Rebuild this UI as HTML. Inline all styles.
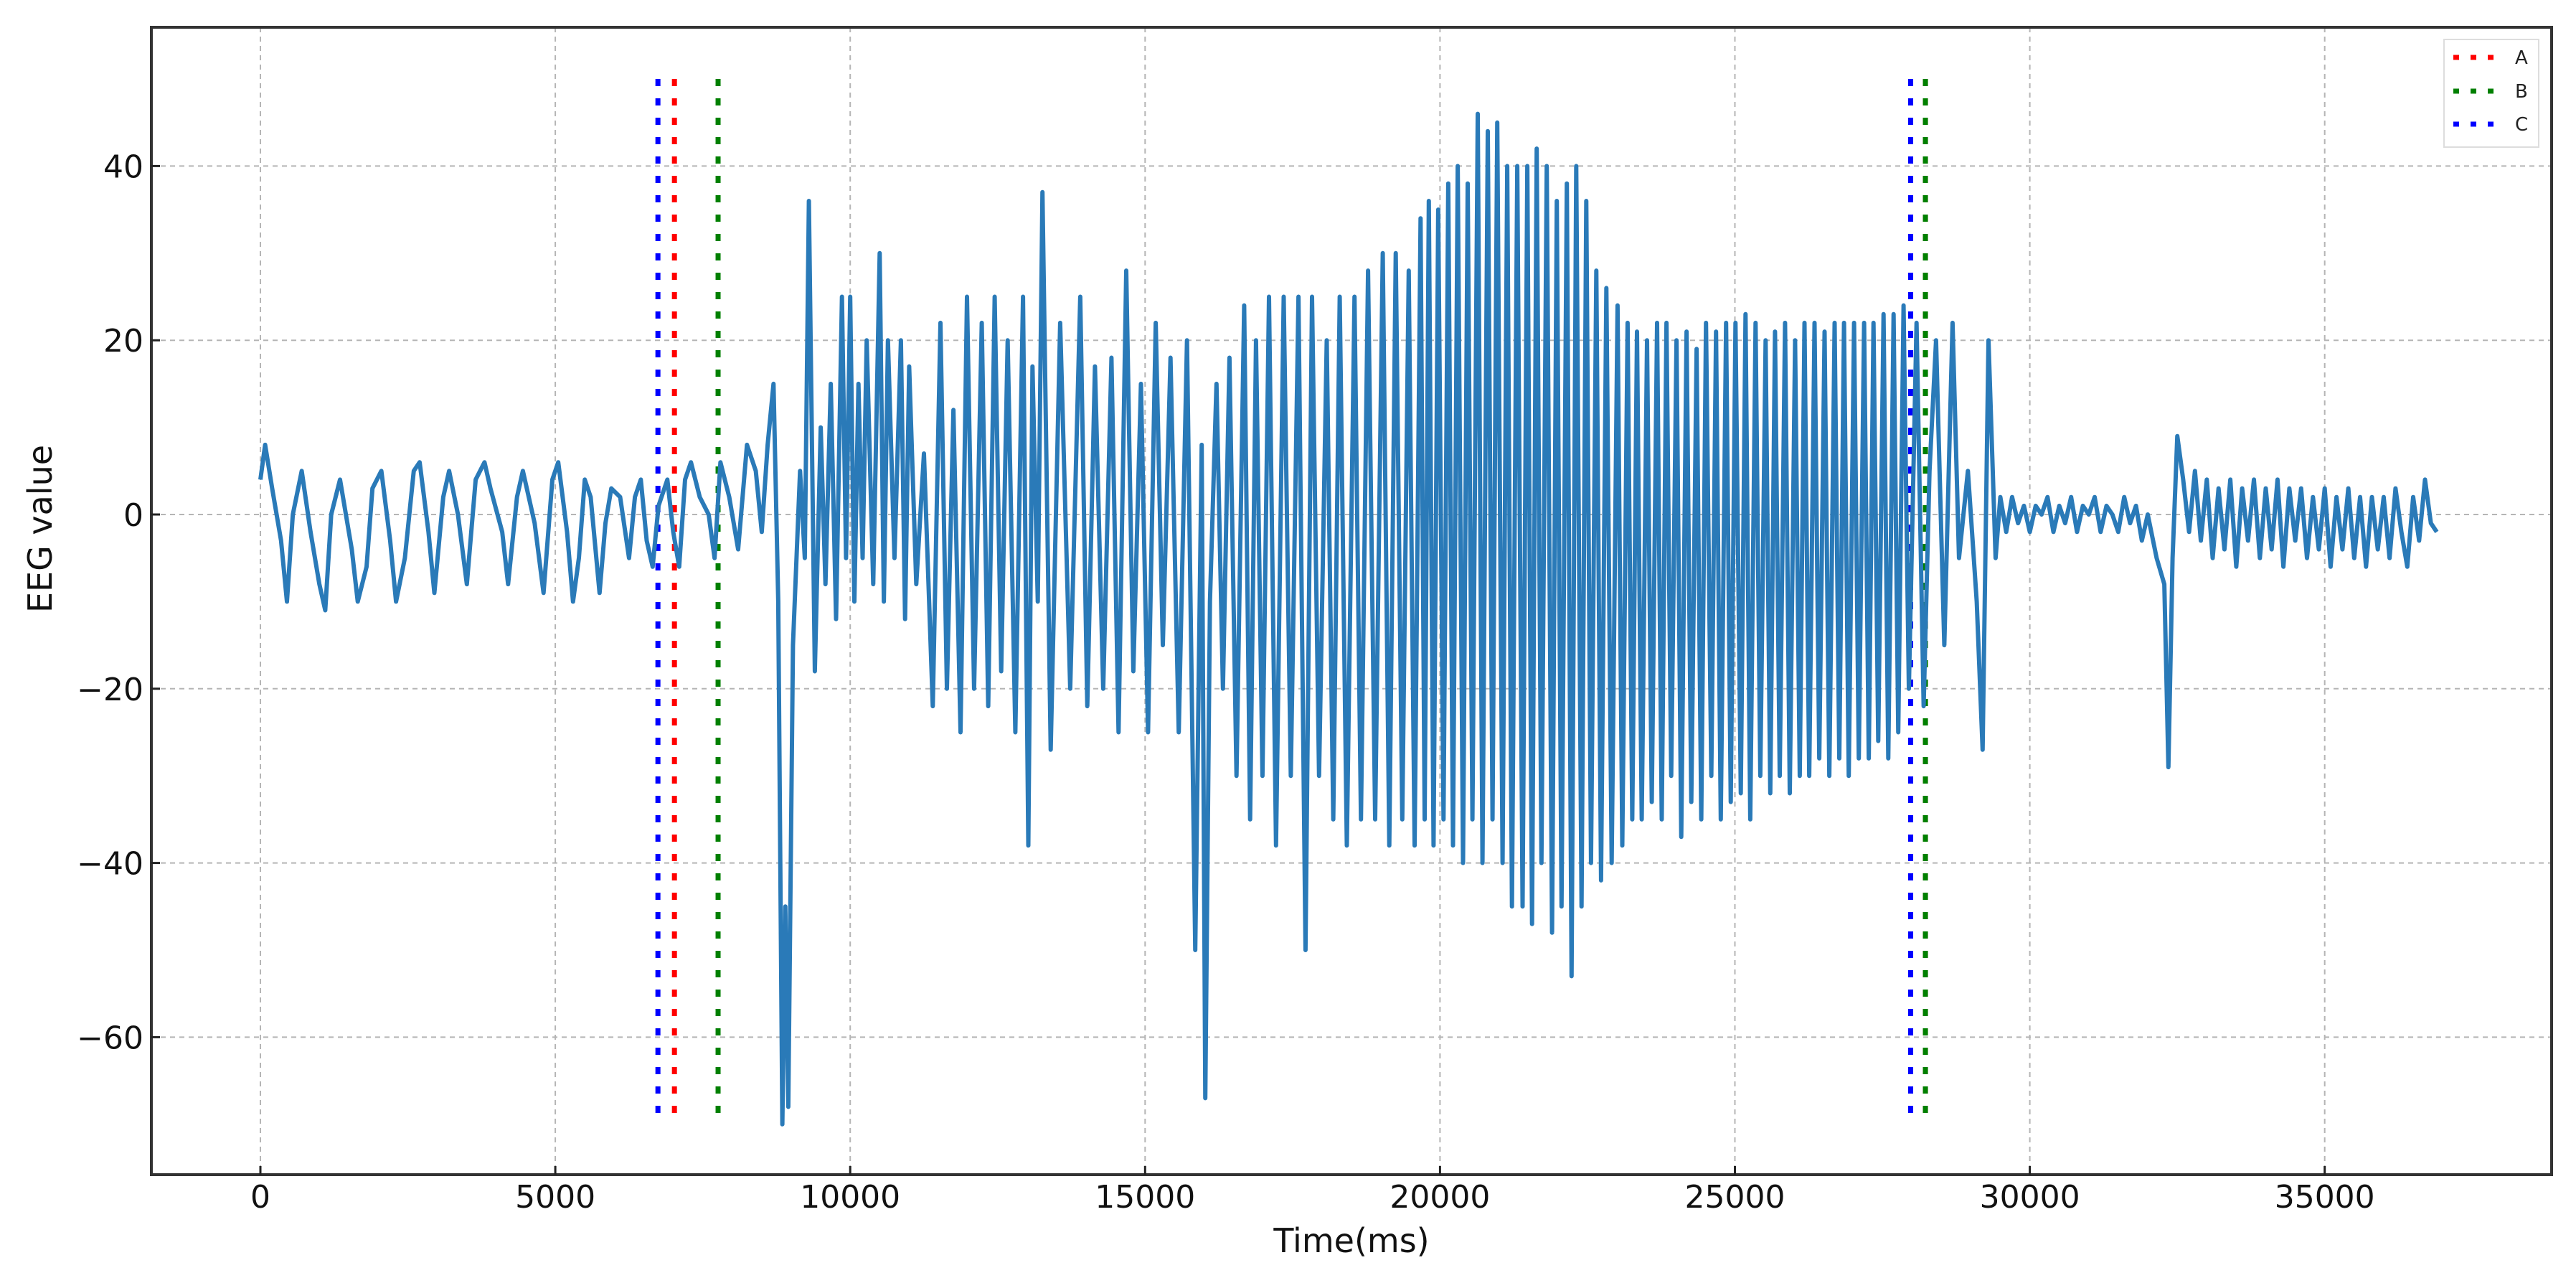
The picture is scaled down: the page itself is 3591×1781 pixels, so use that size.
<!DOCTYPE html>
<html><head><meta charset="utf-8"><style>
html,body{margin:0;padding:0;background:#fff;}
svg{display:block;font-family:"DejaVu Sans","Liberation Sans",sans-serif;}
</style></head><body>
<svg id="chart" width="3591" height="1781" viewBox="0 0 3591 1781" xmlns="http://www.w3.org/2000/svg">
<rect x="0" y="0" width="3591" height="1781" fill="#fff"/>
<g id="grid"></g>
<g id="markers"></g>
<g id="series"></g>
<rect x="211" y="38" width="3346" height="1599" fill="none" stroke="#333" stroke-width="4"/>
<g id="xticks"></g>
<g id="yticks"></g>
<text x="1884" y="1745" font-size="46" text-anchor="middle" fill="#111">Time(ms)</text>
<text transform="translate(72,737) rotate(-90)" font-size="46" text-anchor="middle" fill="#111">EEG value</text>
<g>
<rect x="3407" y="55" width="132" height="150" fill="#fff" stroke="#ddd" stroke-width="2"/>
<line x1="3420" y1="80" x2="3484" y2="80" stroke="#ff0000" stroke-width="7" stroke-dasharray="8 16"/>
<text x="3506" y="89" font-size="26" fill="#222">A</text>
<line x1="3420" y1="127" x2="3484" y2="127" stroke="#008000" stroke-width="7" stroke-dasharray="8 16"/>
<text x="3506" y="136" font-size="26" fill="#222">B</text>
<line x1="3420" y1="173" x2="3484" y2="173" stroke="#0000ff" stroke-width="7" stroke-dasharray="8 16"/>
<text x="3506" y="182" font-size="26" fill="#222">C</text>
</g>
</svg>
<script>
const xTicks = [0,5000,10000,15000,20000,25000,30000,35000];
const yTicks = [40,20,0,-20,-40,-60];
const markerNames = ["C","A","B","C","A","B"];
const markerTimes = [6740,7020,7760,27980,28230,28230];
const markerColors = ["#0000ff","#ff0000","#008000","#0000ff","#ff0000","#008000"];
const markerTop = 50;
const markerBottom = -70;
const times = [0,80,200,350,450,550,700,850,1000,1100,1200,1350,1550,1650,1800,1900,2050,2200,2300,2450,2600,2700,2850,2950,3100,3200,3350,3500,3650,3800,3900,4100,4200,4350,4450,4550,4650,4800,4950,5050,5200,5300,5400,5500,5600,5750,5850,5950,6100,6250,6350,6450,6550,6650,6750,6900,7000,7100,7200,7300,7450,7600,7700,7800,7950,8100,8250,8400,8500,
8600,8700,8780,8850,8900,8950,9030,9150,9230,9300,9400,9500,9580,
9670,9760,9860,9930,10000,10070,10140,10210,10280,10390,10500,10570,10640,10750,10860,10930,11000,11120,11250,11400,11530,11640,11750,11870,11980,12100,12230,12340,12450,12560,12670,12800,12930,13020,13090,13180,13260,13400,13560,13730,13900,14020,14150,14290,14430,14550,14680,14800,14930,15050,15180,15300,15430,15570,15710,15850,15960,16020,16100,16210,16320,16430,16550,16680,16780,16880,16990,17100,17220,17350,17470,17600,17720,17830,17950,18080,18190,18300,18420,18550,18660,18780,18900,19030,19140,19250,19360,19470,19570,19670,19740,19810,19890,19970,20060,20140,20220,20300,20390,20470,20550,20640,20720,20810,20890,20970,21060,21140,21220,21310,21400,21480,21560,21640,21720,21810,21900,21980,22060,22150,22230,22310,22400,22480,22560,22650,22730,22820,22910,23010,23090,23180,23260,23340,23420,23510,23590,23680,23760,23840,23920,24010,24090,24180,24260,24350,24430,24510,24600,24680,24760,24850,24930,25010,25100,25180,25260,25350,25430,25520,25600,25680,25760,25850,25930,26020,26100,26180,26260,26350,26430,26520,26600,26690,26770,26850,26930,27020,27100,27190,27270,27350,27430,27520,27600,27690,27770,27860,27950,28080,28200,28300,28410,28550,28690,28800,28950,29100,29200,29300,29420,29500,
29600,29700,29800,29900,30000,30100,30200,30300,30400,30500,30600,30700,30800,30900,31000,31100,31200,31300,31400,31500,31600,31700,31800,31900,32000,32150,32280,32350,32420,32500,32600,32700,32800,32900,33000,33100,33200,33300,33400,33500,33600,33700,33800,33900,34000,34100,34200,34300,34400,34500,34600,34700,34800,34900,35000,35100,35200,35300,35400,35500,35600,35700,35800,35900,36000,36100,36200,36300,36400,36500,36600,36700,36800,36900];
const values = [4,8,3,-3,-10,0,5,-2,-8,-11,0,4,-4,-10,-6,3,5,-3,-10,-5,5,6,-2,-9,2,5,0,-8,4,6,3,-2,-8,2,5,2,-1,-9,4,6,-2,-10,-5,4,2,-9,-1,3,2,-5,2,4,-3,-6,1,4,-2,-6,4,6,2,0,-5,6,2,-4,8,5,-2,
8,15,-10,-70,-45,-68,-15,5,-5,36,-18,10,-8,
15,-12,25,-5,25,-10,15,-5,20,-8,30,-10,20,-5,20,-12,17,-8,7,-22,22,-20,12,-25,25,-20,22,-22,25,-18,20,-25,25,-38,17,-10,37,-27,22,-20,25,-22,17,-20,18,-25,28,-18,15,-25,22,-15,18,-25,20,-50,8,-67,-10,15,-20,18,-30,24,-35,20,-30,25,-38,25,-30,25,-50,25,-30,20,-35,25,-38,25,-35,28,-35,30,-38,30,-35,28,-38,34,-35,36,-38,35,-35,38,-38,40,-40,38,-35,46,-40,44,-35,45,-40,40,-45,40,-45,40,-47,42,-40,40,-48,36,-45,38,-53,40,-45,36,-40,28,-42,26,-40,24,-38,22,-35,21,-35,20,-33,22,-35,22,-30,20,-37,21,-33,19,-35,22,-30,21,-35,22,-33,22,-32,23,-35,22,-30,20,-32,21,-30,22,-32,20,-30,22,-30,22,-28,21,-30,22,-28,22,-30,22,-28,22,-28,22,-26,23,-28,23,-25,24,-20,22,-22,5,20,-15,22,-5,5,-10,-27,20,-5,2,
-2,2,-1,1,-2,1,0,2,-2,1,-1,2,-2,1,0,2,-2,1,0,-2,2,-1,1,-3,0,-5,-8,-29,-5,9,4,-2,5,-3,4,-5,3,-4,4,-6,3,-3,4,-5,3,-4,4,-6,3,-3,3,-5,2,-4,3,-6,2,-4,3,-5,2,-6,2,-4,2,-5,3,-2,-6,2,-3,4,-1,-2];

const X0 = 363, XS = 0.08222;
const Y0 = 717, YS = 12.14;
const PL = 211, PR = 3557, PT = 38, PB = 1637;
function sx(t){ return X0 + t*XS; }
function sy(v){ return Y0 - v*YS; }
const NS = "http://www.w3.org/2000/svg";
function mk(tag, attrs, parent){
  const el = document.createElementNS(NS, tag);
  for (const k in attrs) el.setAttribute(k, attrs[k]);
  parent.appendChild(el);
  return el;
}
const grid = document.getElementById('grid');
const xt = document.getElementById('xticks');
const yt = document.getElementById('yticks');
xTicks.forEach(t => {
  const x = sx(t);
  const g = mk('line', {x1:x, y1:PT, x2:x, y2:PB, stroke:'#b5b5b5', 'stroke-width':2, 'stroke-dasharray':'7 6'}, grid);
  
  
  const tk = mk('line', {x1:x, y1:PB, x2:x, y2:PB-12, stroke:'#222', 'stroke-width':3}, xt);
  
  
  const lb = mk('text', {x:x, y:1683, 'font-size':44, 'text-anchor':'middle', fill:'#111'}, xt);
  
  
  lb.textContent = String(t);
});
yTicks.forEach(v => {
  const y = sy(v);
  const g = mk('line', {x1:PL, y1:y, x2:PR, y2:y, stroke:'#b5b5b5', 'stroke-width':2, 'stroke-dasharray':'7 6'}, grid);
  
  
  const tk = mk('line', {x1:PL, y1:y, x2:PL+12, y2:y, stroke:'#222', 'stroke-width':3}, yt);
  
  
  const lb = mk('text', {x:200, y:y+16, 'font-size':44, 'text-anchor':'end', fill:'#111'}, yt);
  
  
  lb.textContent = v < 0 ? '\u2212' + Math.abs(v) : String(v);
});
const mg = document.getElementById('markers');
markerTimes.forEach((t, i) => {
  const x = sx(t);
  const l = mk('line', {x1:x, y1:sy(markerTop), x2:x, y2:sy(markerBottom), stroke:markerColors[i], 'stroke-width':7, 'stroke-dasharray':'10 17'}, mg);
  
  
});
const sg = document.getElementById('series');
let d = '';
times.forEach((t, i) => { d += (i ? 'L' : 'M') + sx(t).toFixed(1) + ' ' + sy(values[i]).toFixed(1); });
const p = mk('path', {d:d, fill:'none', stroke:'#2a7ab8', 'stroke-width':6, 'stroke-linejoin':'round'}, sg);


</script>
</body></html>
